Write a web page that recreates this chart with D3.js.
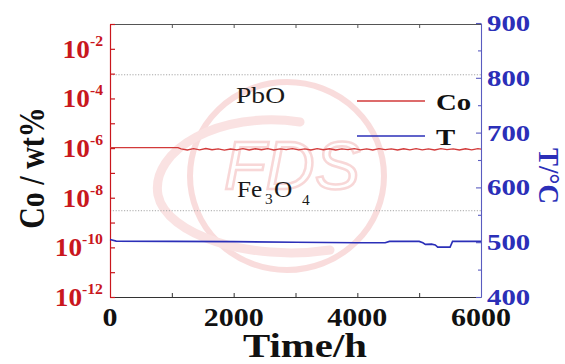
<!DOCTYPE html>
<html>
<head>
<meta charset="utf-8">
<script src="https://cdn.jsdelivr.net/npm/d3@7/dist/d3.min.js"></script>
<style>
  html, body { margin: 0; padding: 0; background: #fff; }
  svg { display: block; }
  text { font-family: "Liberation Serif", "Times New Roman", serif; }
</style>
</head>
<body>
<svg id="chart" width="565" height="364"></svg>
<script>
// Co content (wt%) recorded over the test
const coTime = [0, 1100, 1150, 1250, 1350, 1450, 1550, 1650, 1750, 1850, 1950, 2050, 2150, 2250, 2350,
  2450, 2550, 2650, 2750, 2850, 2950, 3050, 3150, 3250, 3350, 3450, 3550, 3650, 3750, 3850, 3950,
  4050, 4150, 4250, 4350, 4450, 4550, 4650, 4750, 4850, 4950, 5050, 5150, 5250, 5350, 5450, 5550,
  5650, 5750, 5850, 5950, 6000];
const coValue = [1.05e-6, 1.05e-6, 0.93e-6, 0.84e-6, 0.95e-6, 0.85e-6, 0.96e-6, 0.86e-6, 0.93e-6, 0.83e-6,
  0.92e-6, 0.85e-6, 0.95e-6, 0.84e-6, 0.94e-6, 0.86e-6, 0.95e-6, 0.84e-6, 0.93e-6, 0.86e-6, 0.95e-6,
  0.85e-6, 0.93e-6, 0.84e-6, 0.95e-6, 0.86e-6, 0.94e-6, 0.84e-6, 0.93e-6, 0.86e-6, 0.95e-6, 0.85e-6,
  0.93e-6, 0.84e-6, 0.95e-6, 0.86e-6, 0.93e-6, 0.84e-6, 0.94e-6, 0.85e-6, 0.95e-6, 0.85e-6, 0.93e-6,
  0.84e-6, 0.95e-6, 0.86e-6, 0.93e-6, 0.84e-6, 0.94e-6, 0.85e-6, 0.95e-6, 0.90e-6];

// Temperature (°C) over the test
const tTime = [0, 100, 1000, 2000, 3000, 4000, 4450, 4520, 5000, 5060, 5100, 5200, 5260, 5300, 5500, 5540, 6000];
const tValue = [505, 502, 501.5, 501, 500, 499, 499, 501.5, 501.5, 499, 496, 496.5, 495, 491, 491, 501.5, 501.5];

// Oxide stability boundaries (Co wt%)
const boundaryLevels = [9e-4, 3e-9];

// Tick values
const timeTicks = [0, 1000, 2000, 3000, 4000, 5000, 6000];
const timeLabels = [0, 2000, 4000, 6000];
const coTicks = [1e-12, 1e-11, 1e-10, 1e-9, 1e-8, 1e-7, 1e-6, 1e-5, 1e-4, 1e-3, 1e-2, 1e-1];
const coLabelExp = [-2, -4, -6, -8, -10, -12];
const tTicks = [400, 450, 500, 550, 600, 650, 700, 750, 800, 850, 900];
const tLabels = [400, 500, 600, 700, 800, 900];

const RED = "#c9171d";
const LINE_RED = "#d23a3a";
const BLUE = "#2b2fb8";
const SX = 1.2; // horizontal glyph stretch

const svg = d3.select("#chart");

const x = d3.scaleLinear().domain([0, 6000]).range([110, 481]);
const yCo = d3.scaleLog().domain([1e-12, 1e-1]).range([297, 24]);
const yT = d3.scaleLinear().domain([400, 900]).range([297, 23]);

function label(parent, px, py, str, opts) {
  const t = parent.append("text")
    .attr("transform", `translate(${px},${py}) scale(${opts.sx || SX},1)`)
    .attr("font-size", opts.size)
    .attr("font-weight", opts.weight || "bold")
    .attr("fill", opts.fill || "#111")
    .attr("text-anchor", opts.anchor || "start");
  if (str !== null) t.text(str);
  return t;
}

// watermark emblem
const wm = svg.append("g").attr("opacity", 0.45);
wm.append("ellipse").attr("cx", 287).attr("cy", 176).attr("rx", 97).attr("ry", 94)
  .attr("fill", "none").attr("stroke", "#f2b3b3").attr("stroke-width", 6);
wm.append("path")
  .attr("d", "M 300 122 C 220 110 150 150 158 195 C 166 235 250 262 330 250")
  .attr("fill", "none").attr("stroke", "#f4c0c0").attr("stroke-width", 9).attr("stroke-linecap", "round");
wm.append("text").attr("x", 292).attr("y", 189).attr("text-anchor", "middle")
  .style("font-family", "'Liberation Sans', Arial, sans-serif").attr("font-size", 68)
  .attr("font-style", "italic").attr("fill", "none").attr("stroke", "#f0a8a8").attr("stroke-width", 2.5)
  .text("FDS");

// boundary lines
svg.append("g").selectAll("line").data(boundaryLevels).join("line")
  .attr("x1", x(0)).attr("x2", x(6000))
  .attr("y1", d => yCo(d)).attr("y2", d => yCo(d))
  .attr("stroke", "#a8a8a8").attr("stroke-width", 1).attr("stroke-dasharray", "1.2,1.6");

// axes (ticks pointing inward)
const gBottom = svg.append("g").attr("transform", "translate(0,297)")
  .call(d3.axisBottom(x).tickValues(timeTicks).tickSize(-4).tickSizeOuter(0).tickFormat(""));
gBottom.selectAll("path,line").attr("stroke", "#333");
const gTop = svg.append("g").attr("transform", "translate(0,24)")
  .call(d3.axisTop(x).tickValues(timeTicks).tickSize(-4).tickSizeOuter(0).tickFormat(""));
gTop.selectAll("path,line").attr("stroke", "#555");

const gLeft = svg.append("g").attr("transform", "translate(110,0)")
  .call(d3.axisLeft(yCo).tickValues(coTicks).tickSize(-5).tickSizeOuter(0).tickFormat(""));
gLeft.selectAll("path,line").attr("stroke", RED).attr("stroke-width", 1.2);

const gRight = svg.append("g").attr("transform", "translate(481,0)")
  .call(d3.axisRight(yT).tickValues(tTicks).tickSizeOuter(0).tickFormat(""));
gRight.selectAll(".tick line").attr("x2", d => (d % 100 === 0 ? -5 : -3));
gRight.selectAll("path,line").attr("stroke", "#5a5cc0").attr("stroke-width", 1.1);

// data lines
svg.append("path")
  .datum(d3.zip(coTime, coValue))
  .attr("fill", "none").attr("stroke", LINE_RED).attr("stroke-width", 1.3)
  .attr("d", d3.line().x(d => x(d[0])).y(d => yCo(d[1])));
svg.append("path")
  .datum(d3.zip(tTime, tValue))
  .attr("fill", "none").attr("stroke", BLUE).attr("stroke-width", 1.6)
  .attr("d", d3.line().x(d => x(d[0])).y(d => yT(d[1])));

// tick labels
timeLabels.forEach(v => label(svg, x(v), 326, String(v), { size: 25, anchor: "middle" }));
tLabels.forEach(v => label(svg, 487, yT(v) + 8, String(v), { size: 24, fill: BLUE }));
coLabelExp.forEach(e => {
  const t = label(svg, 103, yCo(Math.pow(10, e)) + 9, null, { size: 26, fill: RED, anchor: "end", sx: 1.05 });
  t.append("tspan").text("10");
  t.append("tspan").attr("font-size", 15).attr("dy", -12).text(String(e));
});

// axis titles
svg.append("text").attr("transform", "translate(44,168) rotate(-90) scale(1,1.2)")
  .attr("text-anchor", "middle").attr("font-size", 30).attr("font-weight", "bold").attr("fill", "#111")
  .text("Co / wt%");
svg.append("text").attr("transform", "translate(539,176) rotate(90) scale(1,1.1)")
  .attr("text-anchor", "middle").attr("font-size", 27).attr("font-weight", "bold").attr("fill", BLUE)
  .text("T/°C");
label(svg, 305, 357, "Time/h", { size: 34, anchor: "middle" });

// phase annotations
const ann = { weight: "normal", fill: "#1a1a1a", sx: 1.1 };
label(svg, 236, 103, "PbO", Object.assign({ size: 23 }, ann, { sx: 1.2 }));
label(svg, 237, 197, "Fe", Object.assign({ size: 23 }, ann));
label(svg, 265, 204, "3", Object.assign({ size: 14 }, ann));
label(svg, 274, 197, "O", Object.assign({ size: 23 }, ann));
label(svg, 302, 205, "4", Object.assign({ size: 14 }, ann));

// legend
const legend = [{ name: "Co", color: LINE_RED, y: 101 }, { name: "T", color: BLUE, y: 136 }];
legend.forEach(d => {
  svg.append("line").attr("x1", 357).attr("x2", 425).attr("y1", d.y).attr("y2", d.y)
    .attr("stroke", d.color).attr("stroke-width", 1.3);
  label(svg, 436, d.y + 9, d.name, { size: 24 });
});
</script>
</body>
</html>
